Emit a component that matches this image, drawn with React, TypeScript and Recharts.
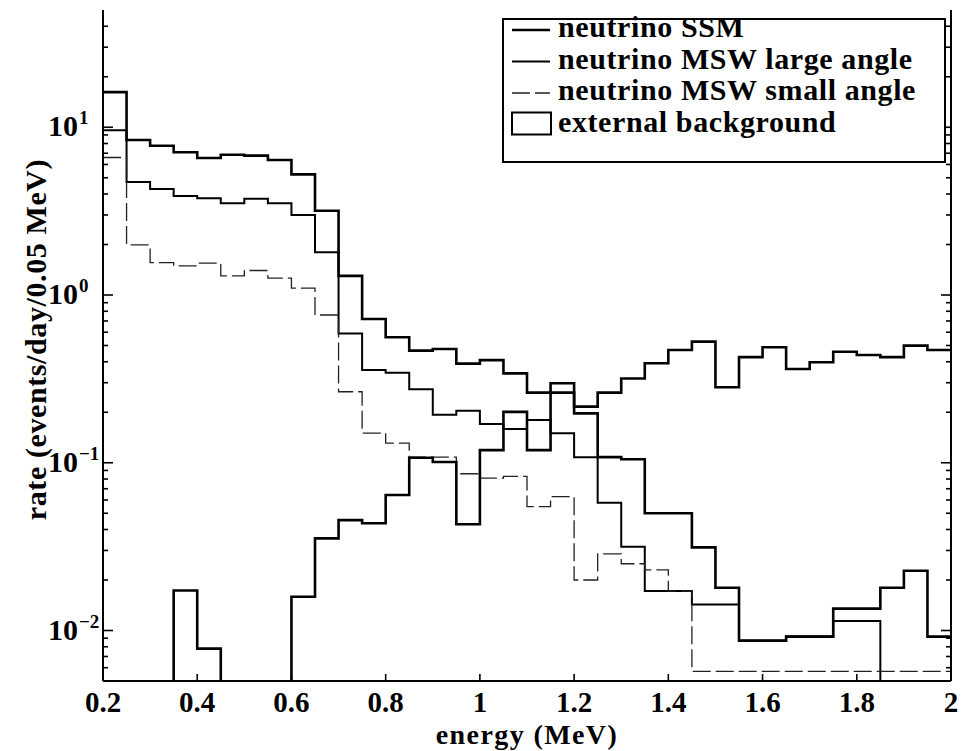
import React from 'react';
import { LineChart, Line, XAxis, YAxis, Legend } from 'recharts';

const FONT = "'Liberation Serif', 'Times New Roman', Times, serif";

// bin edges (MeV), 0.05 MeV bins
const binEdges = [
  0.2, 0.25, 0.3, 0.35, 0.4, 0.45, 0.5, 0.55, 0.6, 0.65, 0.7, 0.75, 0.8, 0.85, 0.9, 0.95,
  1.0, 1.05, 1.1, 1.15, 1.2, 1.25, 1.3, 1.35, 1.4, 1.45, 1.5, 1.55, 1.6, 1.65, 1.7, 1.75,
  1.8, 1.85, 1.9, 1.95, 2.0,
];

// rate per bin (events/day/0.05 MeV); 0.001 = empty bin (below the axis)
const neutrinoSSM = [
  16.2, 8.4, 7.76, 7.09, 6.56, 6.86, 6.77, 6.38, 5.24, 3.18, 1.3, 0.72, 0.56, 0.466, 0.477, 0.39,
  0.409, 0.341, 0.262, 0.298, 0.197, 0.108, 0.105, 0.05, 0.05, 0.0313, 0.018, 0.0087, 0.0087, 0.0092,
  0.0092, 0.0135, 0.0135, 0.018, 0.0227, 0.0092,
];
const neutrinoMSWLarge = [
  9.6, 4.72, 4.28, 3.89, 3.77, 3.52, 3.75, 3.52, 3.0, 1.8, 0.59, 0.357, 0.344, 0.274, 0.193, 0.204,
  0.17, 0.159, 0.18, 0.15, 0.108, 0.0578, 0.0316, 0.0172, 0.0172, 0.0143, 0.0143, 0.0087, 0.0087, 0.0092,
  0.0092, 0.0114, 0.0114, 0.001, 0.001, 0.001,
];
const neutrinoMSWSmall = [
  6.6, 1.99, 1.56, 1.49, 1.55, 1.3, 1.4, 1.26, 1.1, 0.76, 0.265, 0.15, 0.131, 0.108, 0.108, 0.086,
  0.081, 0.083, 0.0547, 0.0628, 0.02, 0.0286, 0.025, 0.023, 0.0172, 0.0057, 0.0057, 0.0057, 0.0057, 0.0057,
  0.0057, 0.0057, 0.0057, 0.0057, 0.0057, 0.0057,
];
const externalBackground = [
  0.001, 0.001, 0.001, 0.0173, 0.0078, 0.001, 0.001, 0.001, 0.0159, 0.0354, 0.0455, 0.0436, 0.0643, 0.107, 0.101, 0.043,
  0.119, 0.201, 0.119, 0.262, 0.216, 0.262, 0.318, 0.392, 0.47, 0.527, 0.282, 0.426, 0.488, 0.362,
  0.397, 0.459, 0.439, 0.426, 0.499, 0.47,
];

const seriesNames = [
  'neutrino SSM',
  'neutrino MSW large angle',
  'neutrino MSW small angle',
  'external background',
];

const xTicks = [0.2, 0.4, 0.6, 0.8, 1, 1.2, 1.4, 1.6, 1.8, 2];
const xTickLabels = ['0.2', '0.4', '0.6', '0.8', '1', '1.2', '1.4', '1.6', '1.8', '2'];
const yDecadeTicks = [0.01, 0.1, 1, 10];
const yDecadeExponents = ['\u22122', '\u22121', '0', '1'];
const yMinorTicks = [
  0.006, 0.007, 0.008, 0.009,
  0.02, 0.03, 0.04, 0.05, 0.06, 0.07, 0.08, 0.09,
  0.2, 0.3, 0.4, 0.5, 0.6, 0.7, 0.8, 0.9,
  2, 3, 4, 5, 6, 7, 8, 9,
  20, 30, 40,
];
const yTicks = [...yDecadeTicks, ...yMinorTicks].sort((a, b) => a - b);

const rows = binEdges.map((e, i) => {
  const k = Math.min(i, neutrinoSSM.length - 1); // closing edge repeats last bin
  return {
    energy: e,
    ssm: neutrinoSSM[k],
    large: neutrinoMSWLarge[k],
    small: neutrinoMSWSmall[k],
    background: externalBackground[k],
  };
});

const bigText: React.CSSProperties = {
  fontFamily: FONT,
  fontWeight: 'bold',
  fontSize: 30,
  fill: '#000',
};

const XTickBottom = (props: any) => {
  const { x, y, payload } = props;
  const idx = xTicks.indexOf(payload.value);
  return (
    <g>
      <line x1={x} x2={x} y1={y} y2={y - 7} stroke="#000" strokeWidth={1.6} />
      <text x={x} y={y + 31} textAnchor="middle" style={{ ...bigText, fontSize: 29 }}>
        {xTickLabels[idx]}
      </text>
    </g>
  );
};

const XTickTop = (props: any) => {
  const { x, y } = props;
  return <line x1={x} x2={x} y1={y} y2={y + 7} stroke="#000" strokeWidth={1.6} />;
};

const YTickLeft = (props: any) => {
  const { x, y, payload } = props;
  const d = yDecadeTicks.indexOf(payload.value);
  const len = d >= 0 ? 10 : 5;
  return (
    <g>
      <line x1={x} x2={x + len} y1={y} y2={y} stroke="#000" strokeWidth={1.6} />
      {d >= 0 && (
        <text x={x - 25} y={y + 9} textAnchor="end" style={bigText}>
          10
        </text>
      )}
      {d >= 0 && (
        <text x={x - 24} y={y - 3} style={{ ...bigText, fontSize: 19 }}>
          {yDecadeExponents[d]}
        </text>
      )}
    </g>
  );
};

const YTickRight = (props: any) => {
  const { x, y, payload } = props;
  const d = yDecadeTicks.indexOf(payload.value);
  const len = d >= 0 ? 10 : 5;
  return <line x1={x} x2={x - len} y1={y} y2={y} stroke="#000" strokeWidth={1.6} />;
};

const XTitle = (props: any) => {
  const vb = props.viewBox || { x: 0, y: 0, width: 0 };
  return (
    <text
      x={vb.x + vb.width / 2}
      y={vb.y + 63}
      textAnchor="middle"
      style={{ ...bigText, fontSize: 28, letterSpacing: 1.4 }}
    >
      energy (MeV)
    </text>
  );
};

const YTitle = (props: any) => {
  const vb = props.viewBox || { x: 0, y: 0, height: 0 };
  const cx = vb.x + 46;
  const cy = vb.y + vb.height / 2 - 6;
  return (
    <text
      x={cx}
      y={cy}
      textAnchor="middle"
      transform={`rotate(-90, ${cx}, ${cy})`}
      style={{ ...bigText, letterSpacing: 0.6 }}
    >
      rate (events/day/0.05 MeV)
    </text>
  );
};

const LegendBox = (props: any) => {
  const payload = [...(props.payload || [])].sort(
    (a: any, b: any) => seriesNames.indexOf(a.value) - seriesNames.indexOf(b.value),
  );
  return (
    <svg width={444} height={145} style={{ display: 'block', overflow: 'visible' }}>
      <rect x={1} y={1} width={442} height={143} fill="#fff" stroke="#000" strokeWidth={2} />
      {payload.map((entry: any, i: number) => {
        const base = 19 + 31.5 * i;
        const p = entry.payload || {};
        return (
          <g key={String(entry.value)}>
            {entry.type === 'rect' ? (
              <rect x={10} y={base - 19} width={39} height={22} fill="none" stroke="#000" strokeWidth={2} />
            ) : (
              <line
                x1={10}
                x2={48}
                y1={base - 7}
                y2={base - 7}
                stroke={entry.color || '#000'}
                strokeWidth={p.strokeWidth ?? 2}
                strokeDasharray={p.strokeDasharray}
              />
            )}
            <text x={56} y={base} style={{ ...bigText, letterSpacing: 0.6 }}>
              {entry.value}
            </text>
          </g>
        );
      })}
    </svg>
  );
};

export default function App() {
  return (
    <div style={{ position: 'absolute', left: 0, top: 0, background: '#fff' }}>
      <LineChart width={963} height={751} data={rows} margin={{ top: 10, right: 0, bottom: 0, left: 0 }}>
        <XAxis
          xAxisId="bottom"
          dataKey="energy"
          type="number"
          domain={[0.2, 2]}
          allowDataOverflow
          ticks={xTicks}
          interval={0}
          height={70}
          tickSize={0}
          tickMargin={0}
          tickLine={false}
          axisLine={{ stroke: '#000', strokeWidth: 2 }}
          tick={(p: any) => <XTickBottom {...p} />}
          label={<XTitle />}
        />
        <XAxis
          xAxisId="top"
          orientation="top"
          dataKey="energy"
          type="number"
          domain={[0.2, 2]}
          allowDataOverflow
          ticks={xTicks}
          interval={0}
          height={0}
          tickSize={0}
          tickMargin={0}
          tickLine={false}
          axisLine={{ stroke: '#000', strokeWidth: 2 }}
          tick={(p: any) => <XTickTop {...p} />}
        />
        <YAxis
          yAxisId="left"
          type="number"
          scale="log"
          domain={[0.005, 50]}
          allowDataOverflow
          ticks={yTicks}
          interval={0}
          width={103}
          tickSize={0}
          tickMargin={0}
          tickLine={false}
          axisLine={{ stroke: '#000', strokeWidth: 2 }}
          tick={(p: any) => <YTickLeft {...p} />}
          label={<YTitle />}
        />
        <YAxis
          yAxisId="right"
          orientation="right"
          type="number"
          scale="log"
          domain={[0.005, 50]}
          allowDataOverflow
          ticks={yTicks}
          interval={0}
          width={12}
          tickSize={0}
          tickMargin={0}
          tickLine={false}
          axisLine={{ stroke: '#000', strokeWidth: 2 }}
          tick={(p: any) => <YTickRight {...p} />}
        />
        <Legend
          layout="horizontal"
          verticalAlign="middle"
          align="center"
          wrapperStyle={{ left: 502, top: 18, width: 444, height: 145 }}
          content={(p: any) => <LegendBox {...p} />}
        />
        <Line
          xAxisId="bottom"
          yAxisId="left"
          type="stepAfter"
          dataKey="ssm"
          name={seriesNames[0]}
          stroke="#000"
          strokeWidth={2.6}
          dot={false}
          activeDot={false}
          isAnimationActive={false}
        />
        <Line
          xAxisId="bottom"
          yAxisId="left"
          type="stepAfter"
          dataKey="large"
          name={seriesNames[1]}
          stroke="#000"
          strokeWidth={2}
          dot={false}
          activeDot={false}
          isAnimationActive={false}
        />
        <Line
          xAxisId="bottom"
          yAxisId="left"
          type="stepAfter"
          dataKey="small"
          name={seriesNames[2]}
          stroke="#222"
          strokeWidth={1.3}
          strokeDasharray="18 5"
          dot={false}
          activeDot={false}
          isAnimationActive={false}
        />
        <Line
          xAxisId="bottom"
          yAxisId="left"
          type="stepAfter"
          dataKey="background"
          name={seriesNames[3]}
          legendType="rect"
          stroke="#000"
          strokeWidth={2.6}
          dot={false}
          activeDot={false}
          isAnimationActive={false}
        />
      </LineChart>
    </div>
  );
}
